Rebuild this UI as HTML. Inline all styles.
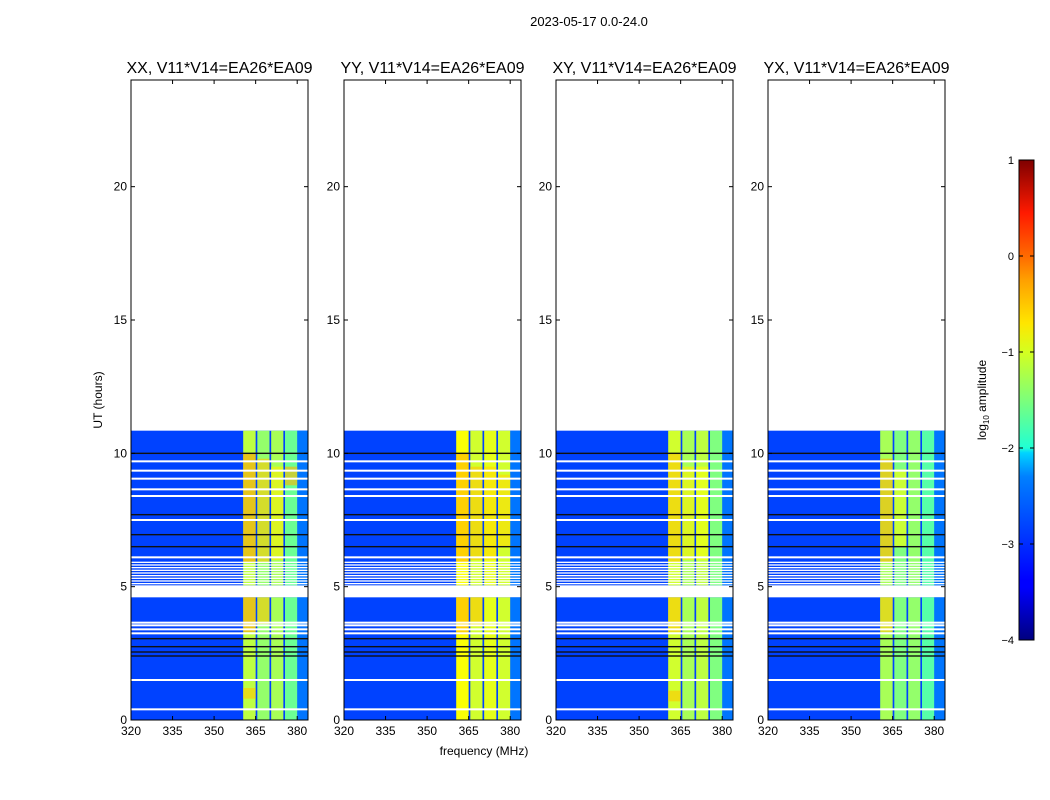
<!DOCTYPE html>
<html><head><meta charset="utf-8">
<style>
body{margin:0;background:#fff;}
svg{display:block;font-family:"Liberation Sans",sans-serif;}
</style></head><body>
<svg id="fig" width="1050" height="800" viewBox="0 0 1050 800">
<defs>
<linearGradient id="jet" x1="0" y1="1" x2="0" y2="0">
<stop offset="0" stop-color="#00007f"/><stop offset="0.11" stop-color="#0000ff"/>
<stop offset="0.125" stop-color="#0000ff"/><stop offset="0.34" stop-color="#0080ff"/>
<stop offset="0.35" stop-color="#0090ff"/><stop offset="0.39" stop-color="#00d4ff"/>
<stop offset="0.4" stop-color="#20ffd4"/><stop offset="0.5" stop-color="#7dff7a"/>
<stop offset="0.6" stop-color="#d4ff20"/><stop offset="0.66" stop-color="#ffe600"/>
<stop offset="0.75" stop-color="#ffa000"/><stop offset="0.8" stop-color="#ff6a00"/>
<stop offset="0.89" stop-color="#ff1a00"/><stop offset="1" stop-color="#7f0000"/>
</linearGradient>
</defs>
<text x="589" y="26" font-size="13" text-anchor="middle">2023-05-17 0.0-24.0</text>
<text x="484" y="755" font-size="12" text-anchor="middle">frequency (MHz)</text>
<text transform="translate(102,400) rotate(-90)" font-size="12" text-anchor="middle">UT (hours)</text>
<g id="panels"></g>
<g>
<rect x="1019" y="160" width="15" height="480" fill="url(#jet)" stroke="#000" stroke-width="1"/>
<g id="cbticks"></g>
<text transform="translate(986,400) rotate(-90)" font-size="12" text-anchor="middle">log<tspan font-size="8" dy="3">10</tspan><tspan dy="-3"> amplitude</tspan></text>
</g>
</svg>
<script>
const panelTitles = ["XX, V11*V14=EA26*EA09","YY, V11*V14=EA26*EA09","XY, V11*V14=EA26*EA09","YX, V11*V14=EA26*EA09"];
const xTicks = [320,335,350,365,380];
const yTicks = [0,5,10,15,20];
const cbTicks = [-4,-3,-2,-1,0,1];
// data time segments [h0,h1]
const dataSegments = [[0,4.6],[5.05,10.85]];
// RFI band columns [f0,f1]
const bandCols = [[360.5,365],[365.6,370],[370.6,375],[375.6,380]];
// column base level (log10 amp) per panel
const colLevels = [
 [-1.2,-1.4,-1.3,-1.6],
 [-0.9,-1.1,-1.0,-1.1],
 [-1.1,-1.3,-1.2,-1.5],
 [-1.3,-1.5,-1.4,-1.7]];
// hot blocks: [panel,col,h0,h1,level]
const hotBlocks = [
 [0,0,5.9,10,-0.4],[0,1,5.9,9.8,-0.6],[0,2,6,9.5,-0.8],[0,3,8.8,9.5,-0.5],
 [0,0,3.3,4.6,-0.4],[0,1,3.6,4.6,-0.6],[0,0,0.8,1.2,-0.6],
 [1,0,5.9,10,-0.5],[1,1,6,9.5,-0.6],[1,2,6,9.5,-0.7],[1,3,6.5,9.2,-0.7],
 [1,0,3.2,4.6,-0.5],[1,1,3.5,4.6,-0.6],
 [2,0,5.9,10,-0.6],[2,1,6,9.5,-0.8],[2,2,6,9.5,-0.9],[2,0,3.3,4.6,-0.6],[2,0,0.7,1.1,-0.6],
 [3,0,5.9,9.8,-0.5],[3,1,6.5,9.4,-0.9],[3,0,3.3,4.6,-0.6]];
const bgLevel = -3.05;
const edgeLevel = -2.8;
const flagRows = [0.4,1.5,3.25,3.4,3.55,3.65,6.1,7.5,8.4,8.65,9.05,9.35,9.7];
const blackRows = [2.4,2.55,2.75,3.05,6.5,6.95,7.7,10.0];
const stripeRange = [5.1,5.95];
const stripeStep = 0.1;

function jet(v){
  let t=(v+4)/5; t=Math.max(0,Math.min(1,t));
  const r=Math.min(4*t-1.5,-4*t+4.5), g=Math.min(4*t-0.5,-4*t+3.5), b=Math.min(4*t+0.5,-4*t+2.5);
  const c=x=>Math.round(255*Math.max(0,Math.min(1,x)));
  return `rgb(${c(r)},${c(g)},${c(b)})`;
}
const NS="http://www.w3.org/2000/svg";
function mk(tag,attrs,parent){const e=document.createElementNS(NS,tag);for(const k in attrs)e.setAttribute(k,attrs[k]);parent.appendChild(e);return e;}
const panelX=[131,344,556,768], PW=177, PT=80, PB=720;
const fMin=320, fMax=320+PW/2.77;
const yOf=h=>PB-h*(PB-PT)/24;
const root=document.getElementById('panels');
panelTitles.forEach((title,p)=>{
  const X0=panelX[p];
  const xOf=f=>X0+(f-fMin)*PW/(fMax-fMin);
  const g=mk('g',{},root);
  
  
  dataSegments.forEach(([h0,h1])=>{
    const r=mk('rect',{x:X0,y:yOf(h1),width:PW,height:yOf(h0)-yOf(h1),fill:jet(bgLevel)},g);
    
    
    const e=mk('rect',{x:xOf(380),y:yOf(h1),width:X0+PW-xOf(380),height:yOf(h0)-yOf(h1),fill:jet(edgeLevel)},g);
    
    
    bandCols.forEach(([f0,f1],c)=>{
      const b=mk('rect',{x:xOf(f0),y:yOf(h1),width:xOf(f1)-xOf(f0),height:yOf(h0)-yOf(h1),fill:jet(colLevels[p][c])},g);
      
      
    });
  });
  hotBlocks.filter(b=>b[0]===p).forEach(([pp,c,h0,h1,lv])=>{
    const [f0,f1]=bandCols[c];
    const b=mk('rect',{x:xOf(f0),y:yOf(h1),width:xOf(f1)-xOf(f0),height:yOf(h0)-yOf(h1),fill:jet(lv),opacity:0.6},g);
    
    
  });
  for(let h=stripeRange[0];h<stripeRange[1];h+=stripeStep){
    const s=mk('rect',{x:X0,y:yOf(h)-1,width:PW,height:1.3,fill:'#fff'},g);
    
    
  }
  flagRows.forEach(h=>{
    const s=mk('rect',{x:X0,y:yOf(h)-1,width:PW,height:2,fill:'#fff'},g);
    
    
  });
  blackRows.forEach(h=>{
    const s=mk('rect',{x:X0,y:yOf(h)-0.7,width:PW,height:1.4,fill:'#111'},g);
    
    
  });
  const fr=mk('rect',{x:X0,y:PT,width:PW,height:PB-PT,fill:'none',stroke:'#000','stroke-width':1},g);
  
  
  const t=mk('text',{x:X0+PW/2,y:73,'font-size':16,'text-anchor':'middle'},g);
  t.textContent=title;
  
  
  xTicks.forEach(f=>{
    const x=xOf(f);
    mk('line',{x1:x,x2:x,y1:PB,y2:PB-4,stroke:'#000'},g);
    mk('line',{x1:x,x2:x,y1:PT,y2:PT+4,stroke:'#000'},g);
    const l=mk('text',{x:x,y:PB+15,'font-size':12,'text-anchor':'middle'},g);
    l.textContent=f;
    
    
  });
  yTicks.forEach(h=>{
    const y=yOf(h);
    mk('line',{x1:X0,x2:X0+4,y1:y,y2:y,stroke:'#000'},g);
    mk('line',{x1:X0+PW,x2:X0+PW-4,y1:y,y2:y,stroke:'#000'},g);
    const l=mk('text',{x:X0-4,y:y+4,'font-size':12,'text-anchor':'end'},g);
    l.textContent=h;
    
    
  });
});
const cb=document.getElementById('cbticks');
cbTicks.forEach(v=>{
  const y=640-(v+4)*96;
  mk('line',{x1:1019,x2:1023,y1:y,y2:y,stroke:'#000'},cb);
  mk('line',{x1:1034,x2:1030,y1:y,y2:y,stroke:'#000'},cb);
  const l=mk('text',{x:1014,y:y+4,'font-size':11,'text-anchor':'end'},cb);
  l.textContent=v<0?'\u2212'+(-v):v;
  
  
});
</script>
</body></html>
